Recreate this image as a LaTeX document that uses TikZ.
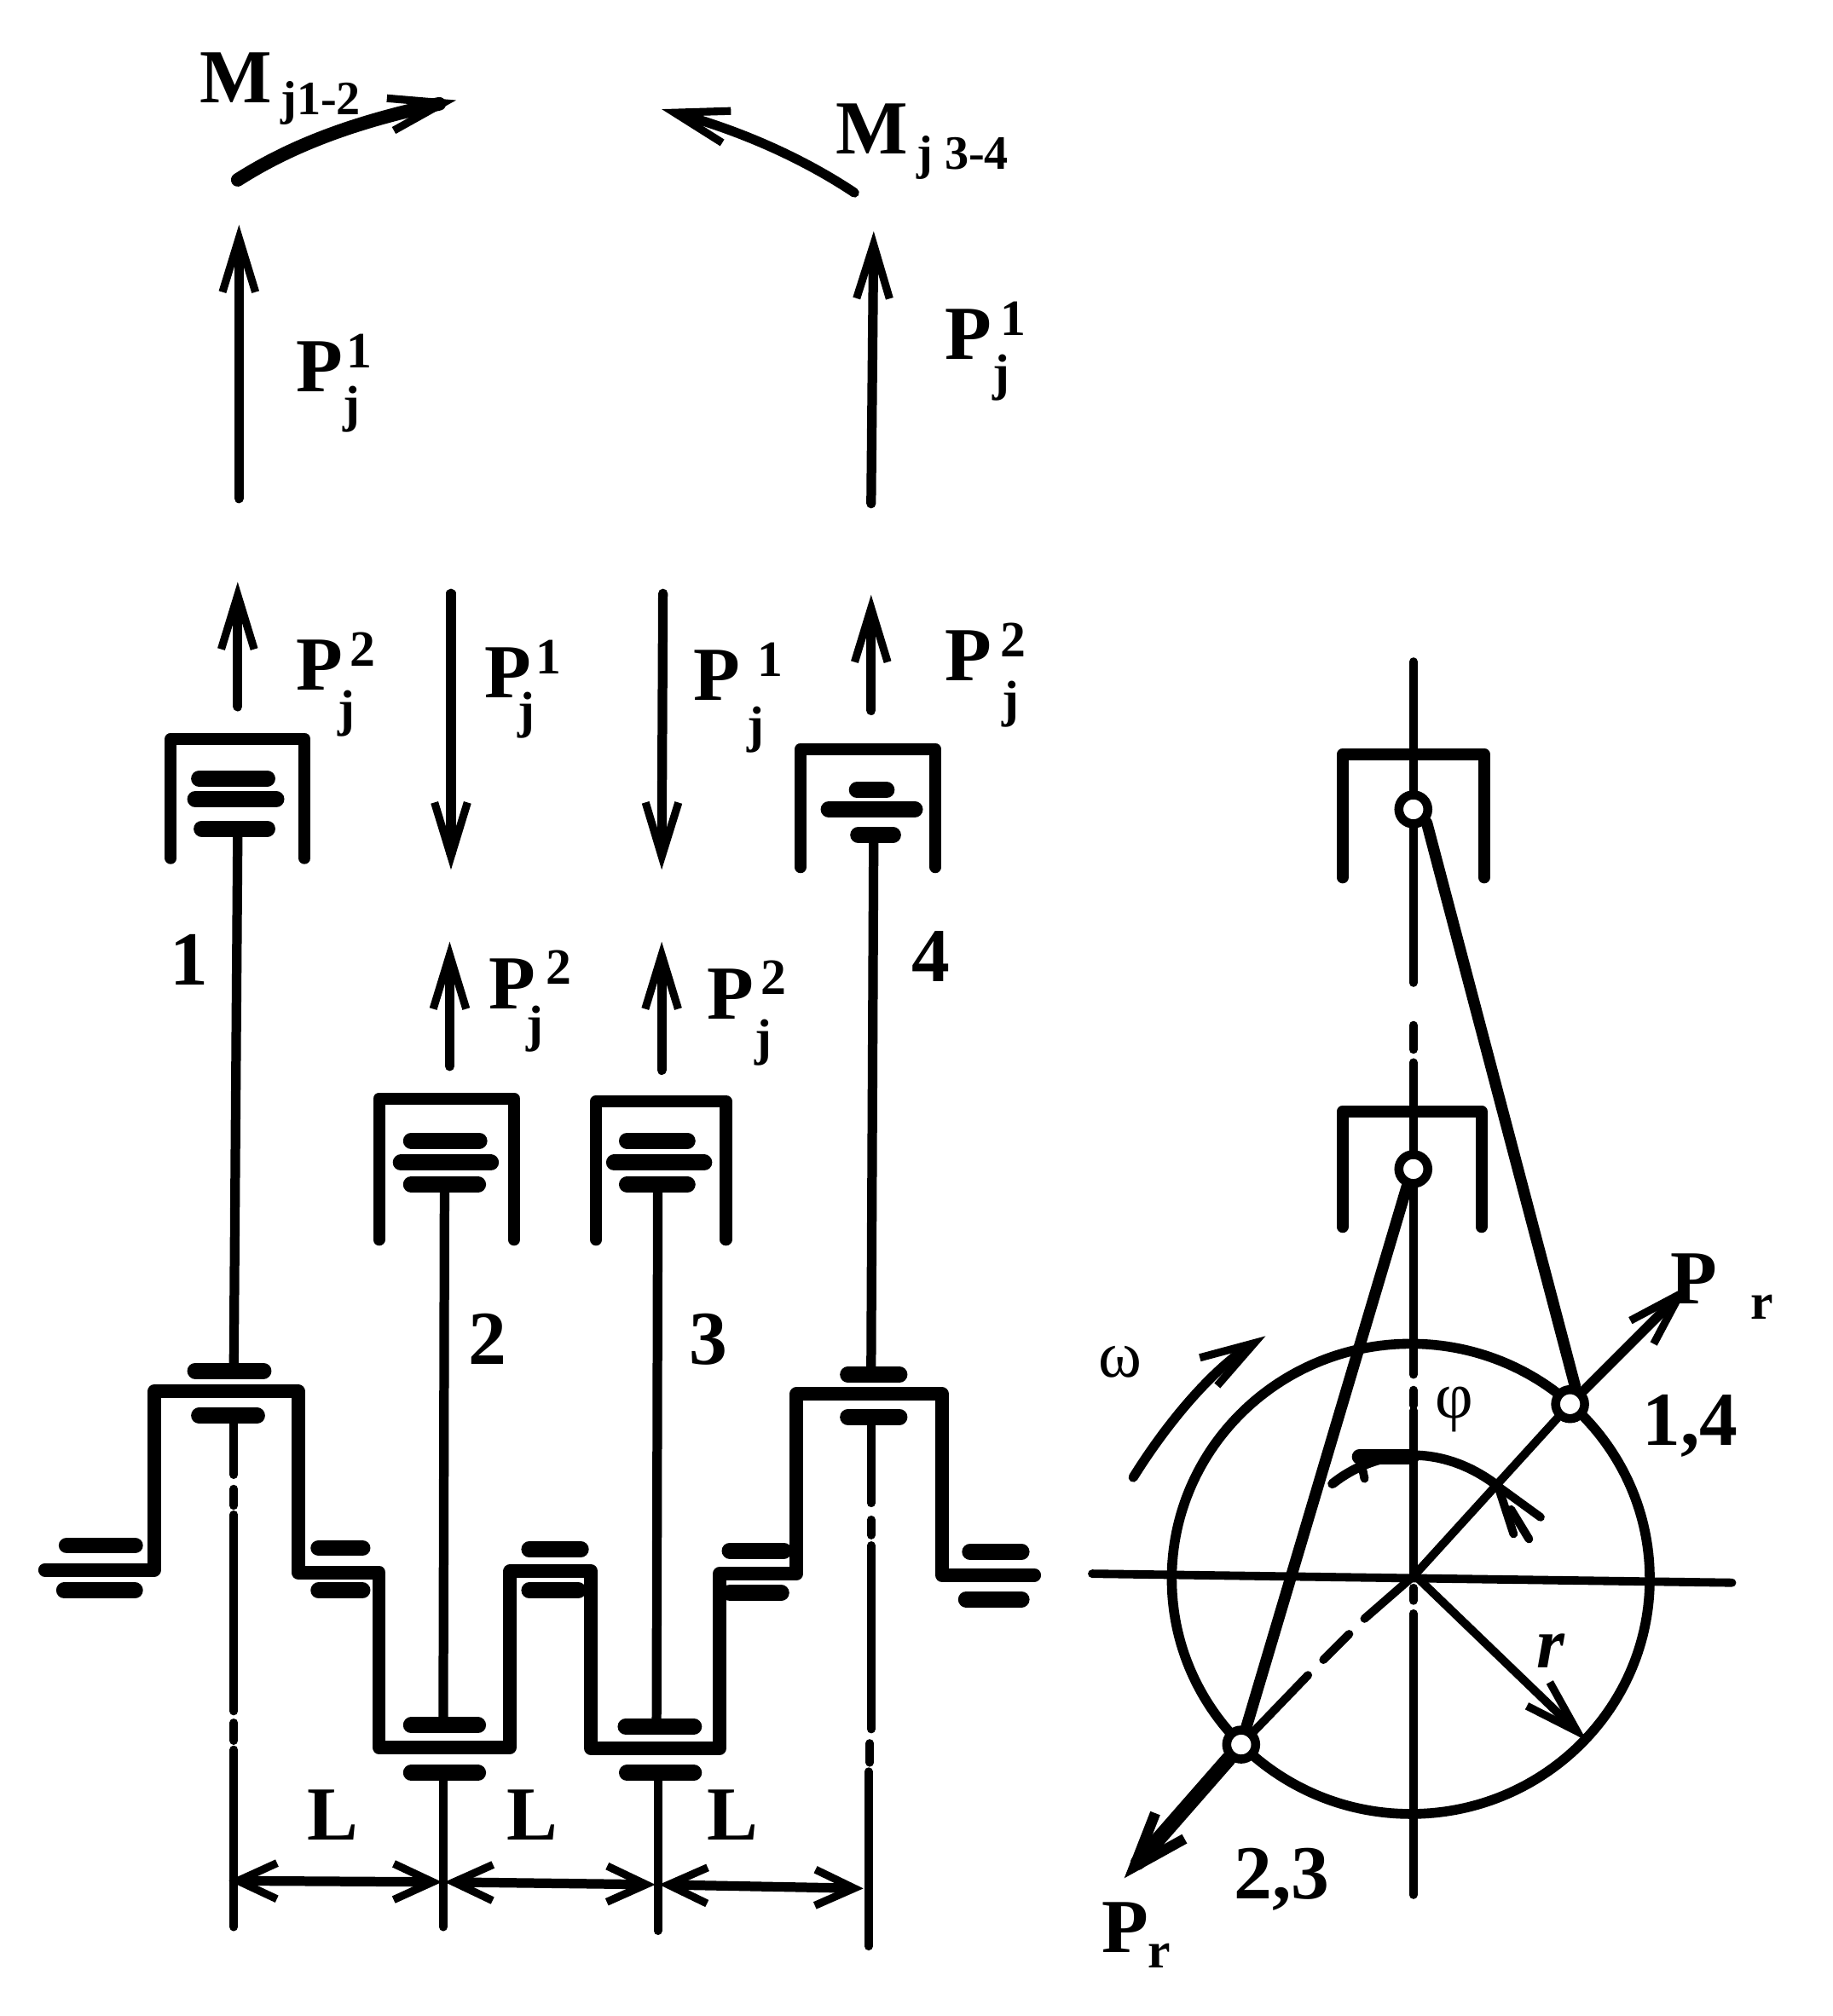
\documentclass[tikz,border=0pt]{standalone}
\usepackage{fontspec}
\setmainfont{Liberation Serif}
\usetikzlibrary{arrows.meta}
\tikzstyle{line} = [draw, line width=3.2pt, line cap=round]
\tikzstyle{force} = [line, -{Straight Barb[length=18pt, width=11pt, line width=2.6pt]}]
\tikzstyle{wall} = [draw, line width=4pt, line cap=round, line join=round]
\tikzstyle{crank} = [draw, line width=4.5pt, line cap=round, line join=round]
\tikzstyle{bar} = [draw, line width=5.4pt, line cap=round]
\tikzstyle{axis} = [draw, line width=2.8pt, line cap=round]
\tikzstyle{dimension} = [draw, line width=3.2pt, {Straight Barb[length=13pt, width=12pt, line width=2.6pt]}-{Straight Barb[length=13pt, width=12pt, line width=2.6pt]}]
\tikzstyle{label} = [inner sep=0pt, anchor=base west, font=\fontsize{25.5}{26}\selectfont\bfseries]
\tikzstyle{pin} = [draw, circle, fill=white, line width=3pt, inner sep=0pt, minimum size=0.34cm]
\newcommand{\sublab}{\fontsize{17}{17}\selectfont}
% force label: superscript, its shift and rise, shift and drop of the j
\newcommand{\Plab}[5]{P\rlap{\kern#2pt\raisebox{#3pt}{\sublab #1}}\rlap{\kern#4pt\raisebox{-#5pt}{\sublab j}}}
\begin{document}
\begin{tikzpicture}[x=0.01507cm, y=-0.01507cm]
    \useasboundingbox (0,0) rectangle (1426,1569.3);
    % cylinders
    \foreach \l/\r/\t/\b in {133/237/575/668, 295/400/855/965, 464/565/857/965, 623/728/583/675, 1045/1155/587/683, 1045/1153/865/955}
        \draw[wall] (\l,\b) -- (\l,\t) -- (\r,\t) -- (\r,\b);
    % bearings and piston rings
    \foreach \a/\b/\y in {155/208/606, 152/215/622, 157/208/645, 320/373/888, 312/382/905, 320/372/922,
            488/535/888, 478/548/905, 488/535/922, 667/690/615, 645/712/630, 668/695/650,
            152/205/1067, 155/200/1102, 320/372/1343, 320/372/1380, 487/540/1344, 488/540/1380,
            660/700/1070, 660/700/1103, 52/105/1203, 50/105/1238, 248/282/1205, 248/282/1238,
            412/452/1206, 412/450/1238, 568/610/1207, 568/608/1240, 755/795/1208, 752/795/1245}
        \draw[bar] (\a,\y) -- (\b,\y);
    % connecting rods
    \path[line] (185,650) -- (182,1062);
    \path[line] (346,925) -- (345,1340);
    \path[line] (512,925) -- (511,1340);
    \path[line] (680,650) -- (678,1067);
    % crankshaft
    \path[crank] (35,1222) -- (120,1222) -- (120,1083) -- (232,1083) -- (232,1224) -- (295,1224) -- (295,1360)
        -- (397,1360) -- (397,1223) -- (460,1223) -- (460,1361) -- (560,1361) -- (560,1225) -- (620,1225)
        -- (620,1085) -- (733,1085) -- (733,1226) -- (805,1226);
    % centre lines
    \foreach \x/\ya/\yb in {182/1105/1148, 182/1159/1172, 182/1179/1332, 182/1341/1355, 182/1362/1500,
            678/1105/1170, 678/1183/1195, 678/1203/1346, 677/1357/1372, 676/1379/1515,
            345/1382/1500, 512/1382/1503}
        \draw[axis] (\x,\ya) -- (\x,\yb);
    % forces
    \path[force] (186,388) -- (186,175);
    \path[force] (185,550) -- (185,453);
    \path[force] (351,462) -- (351,677);
    \path[force] (516,462) -- (515,677);
    \path[force] (350,830) -- (350,733);
    \path[force] (515,833) -- (515,733);
    \path[force] (678,392) -- (680,180);
    \path[force] (678,553) -- (678,463);
    \path[force, line width=4.5pt] (185,140) .. controls (235,108) and (290,92) .. (355,78);
    \path[force] (665,150) .. controls (620,120) and (570,100) .. (515,85);
    \node[label] (pja) at (230,305) {\Plab{1}{1.3}{8}{0}{10}};
    \node[label] (pjb) at (735,280) {\Plab{1}{3}{8}{.5}{10}};
    \node[label] (pjc) at (230,537) {\Plab{2}{2.5}{8}{-1.7}{12}};
    \node[label] (pjd) at (377,543) {\Plab{1}{1.3}{8}{-4.7}{10}};
    \node[label] (pje) at (539,545) {\Plab{1}{6}{8}{2.6}{14}};
    \node[label] (pjf) at (735,530) {\Plab{2}{3}{8}{3.4}{12}};
    \node[label] (pjg) at (380,785) {\Plab{2}{3.4}{8}{-3}{11}};
    \node[label] (pjh) at (550,793) {\Plab{2}{2.2}{8}{.4}{12}};
    \node[label] (mja) at (155,80) {M\rlap{\kern3pt\raisebox{-4pt}{\fontsize{16}{16}\selectfont j1-2}}};
    \node[label] (mjb) at (650,120) {M\rlap{\kern3pt\raisebox{-5pt}{\fontsize{16}{16}\selectfont j 3-4}}};
    % cylinder numbers and spans
    \node[label] (numa) at (132,767) {1};
    \node[label] (numb) at (364,1062) {2};
    \node[label] (numc) at (536,1062) {3};
    \node[label] (numd) at (709,764) {4};
    \path[dimension] (178,1464) -- (344,1465);
    \path[dimension] (346,1465) -- (510,1467);
    \path[dimension] (513,1467) -- (672,1470);
    \node[label] (spana) at (239,1432) {L};
    \node[label] (spanb) at (394,1432) {L};
    \node[label] (spanc) at (550,1432) {L};
    % crank circle
    \coordinate (centre) at (1101,1226);
    \draw[line width=3.3pt] (1098,1229) ellipse (186 and 183);
    \foreach \ya/\yb in {515/765, 798/817, 827/1070, 1082/1094, 1098/1225, 1236/1246, 1256/1475}
        \draw[axis] (1100,\ya) -- (1100,\yb);
    \draw[axis] (850,1225) -- (1348,1232);
    \node[pin] (pinc) at (1100,630) {};
    \node[pin] (pind) at (1100,910) {};
    \node[pin] (pina) at (1222,1093) {};
    \node[pin] (pinb) at (966,1358) {};
    \path[line, line width=3.8pt] (pinc.-45) -- (pina.75);
    \path[line, line width=3.8pt] (pind.-110) -- (pinb);
    \draw[axis] (centre) -- (pina);
    \draw[axis] (centre) -- (1062,1260);
    \draw[axis] (1050,1272) -- (1030,1292);
    \draw[axis] (1018,1304) -- (pinb);
    \path[force] (pina) -- (1315,1000);
    \path[force, line width=5pt, -{Straight Barb[length=18pt, width=13pt, line width=3.5pt]}] (pinb) -- (875,1462);
    \path[force, line width=2.8pt] (centre) -- (1235,1355);
    \path[force] (882,1150) .. controls (910,1105) and (945,1065) .. (985,1040);
    % angle arc with its tip
    \coordinate (arctip) at (1166,1157);
    \path[line] (1037,1155) .. controls (1075,1125) and (1125,1125) .. (arctip);
    \path[line, line width=5pt] (1058,1134) -- (1099,1134);
    \path[line, line width=2.8pt] (1058,1132) -- (1062,1151);
    \path[line, line width=2.8pt] (arctip) -- (1178,1194);
    \path[line, line width=2.8pt] (arctip) -- (1199,1181);
    \path[line, line width=2.8pt] (1176,1175) -- (1190,1198);
    \node[label] (prb) at (1300,1015) {P\rlap{\kern11pt\raisebox{-5pt}{\sublab r}}};
    \node[label] (pra) at (857,1520) {P\rlap{\kern0pt\raisebox{-5pt}{\sublab r}}};
    \node[label] (posa) at (1278,1125) {1,4};
    \node[label] (posb) at (960,1478) {2,3};
    \node[inner sep=0pt, font=\fontsize{22}{22}\selectfont] (omega) at (872,1060) {ω};
    \node[inner sep=0pt, font=\fontsize{22}{22}\selectfont] (phi) at (1132,1097) {φ};
    \node[inner sep=0pt, font=\fontsize{24}{24}\selectfont\bfseries\itshape] (rad) at (1207,1285) {r};
\end{tikzpicture}
\end{document}
